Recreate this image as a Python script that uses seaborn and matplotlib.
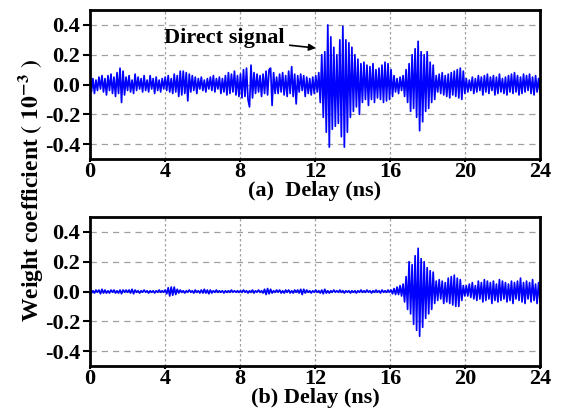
import matplotlib
matplotlib.use('Agg')
import matplotlib.pyplot as plt
import numpy as np
import pandas as pd
import seaborn as sns

# weight coefficients (x1e-3), sampled every 0.08 ns, 2 ns per row
weights_a = [
    0.07, -0.05, 0.04, -0.06, 0.03, -0.04, 0.05, -0.03, 0.06, -0.05, 0.04, -0.07, 0.06, -0.04, 0.07, -0.06, 0.05, -0.08, 0.08, -0.06, 0.11, -0.12, 0.09, -0.07, 0.05,
    -0.04, 0.06, -0.05, 0.03, -0.06, 0.07, -0.04, 0.05, -0.03, 0.04, -0.05, 0.06, -0.04, 0.03, -0.05, 0.06, -0.03, 0.04, -0.06, 0.05, -0.04, 0.03, -0.05, 0.04, -0.03,
    0.05, -0.04, 0.06, -0.05, 0.04, -0.06, 0.07, -0.05, 0.06, -0.08, 0.09, -0.07, 0.09, -0.06, 0.08, -0.11, 0.07, -0.05, 0.06, -0.04, 0.05, -0.06, 0.04, -0.03, 0.05,
    -0.04, 0.03, -0.05, 0.04, -0.03, 0.05, -0.04, 0.06, -0.05, 0.04, -0.03, 0.05, -0.06, 0.04, -0.05, 0.06, -0.07, 0.08, -0.06, 0.07, -0.05, 0.09, -0.07, 0.06, -0.08,
    0.07, -0.09, 0.10, -0.08, 0.11, -0.10, -0.15, 0.13, -0.09, 0.08, -0.06, 0.07, -0.05, 0.06, -0.08, 0.07, -0.06, 0.09, -0.07, 0.10, 0.11, -0.14, 0.08, -0.06, 0.05,
    -0.06, 0.07, -0.05, 0.08, -0.07, 0.06, -0.08, 0.09, -0.06, 0.12, -0.08, 0.07, -0.13, 0.06, -0.05, 0.07, -0.04, 0.06, -0.08, 0.05, -0.06, 0.04, -0.07, 0.05, -0.06,
    0.06, -0.05, 0.08, -0.12, 0.20, -0.22, 0.22, -0.32, 0.40, -0.42, 0.32, -0.30, 0.25, -0.28, 0.20, -0.26, 0.30, -0.35, 0.39, -0.42, 0.30, -0.32, 0.28, -0.22, 0.25,
    -0.18, 0.20, -0.15, 0.17, -0.20, 0.14, -0.12, 0.15, -0.10, 0.13, -0.14, 0.12, -0.10, 0.14, -0.12, 0.10, -0.09, 0.11, -0.10, 0.13, -0.12, 0.15, -0.11, 0.14, -0.10,
    0.10, -0.08, 0.06, -0.05, 0.04, -0.06, 0.05, -0.04, 0.06, -0.08, 0.10, -0.12, 0.14, -0.18, 0.20, -0.16, 0.24, -0.22, 0.29, -0.31, 0.22, -0.25, 0.20, -0.18, 0.22,
    -0.16, 0.15, -0.12, 0.13, -0.10, 0.06, -0.05, 0.07, -0.06, 0.08, -0.07, 0.06, -0.08, 0.07, -0.09, 0.08, -0.07, 0.09, -0.08, 0.10, -0.09, 0.11, -0.10, 0.09, -0.06,
    0.04, -0.05, 0.03, -0.04, 0.05, -0.06, 0.04, -0.05, 0.06, -0.04, 0.05, -0.07, 0.06, -0.05, 0.07, -0.06, 0.05, -0.04, 0.06, -0.07, 0.05, -0.06, 0.07, -0.05, 0.04,
    -0.06, 0.05, -0.07, 0.06, -0.05, 0.07, -0.06, 0.08, -0.05, 0.06, -0.07, 0.05, -0.06, 0.07, -0.05, 0.06, -0.04, 0.07, -0.06, 0.05, -0.07, 0.06, -0.05, 0.04, -0.06,
]

weights_b = [
    0.010, -0.010, 0.005, -0.010, 0.010, -0.005, 0.010, -0.015, 0.015, -0.010, 0.010, -0.010, 0.005, -0.010, 0.010, -0.005, 0.010, -0.010, 0.005, -0.010, 0.010, -0.015, 0.010, -0.005, 0.010,
    -0.005, 0.010, -0.010, 0.015, -0.015, 0.010, -0.005, 0.005, -0.010, 0.005, -0.005, 0.010, -0.005, 0.005, -0.010, 0.005, -0.005, 0.005, -0.010, 0.005, -0.005, 0.010, -0.005, 0.005, -0.005,
    0.010, -0.015, 0.025, -0.030, 0.030, -0.025, 0.030, -0.020, 0.015, -0.010, 0.010, -0.005, 0.005, -0.010, 0.005, -0.005, 0.010, -0.005, 0.005, -0.010, 0.010, -0.005, 0.005, -0.010, 0.010,
    -0.010, 0.015, -0.010, 0.010, -0.015, 0.010, -0.010, 0.005, -0.005, 0.010, -0.005, 0.005, -0.005, 0.005, -0.010, 0.005, -0.005, 0.005, -0.005, 0.010, -0.005, 0.005, -0.005, 0.005, -0.005,
    0.005, -0.005, 0.010, -0.005, 0.005, -0.010, 0.005, -0.005, 0.010, -0.010, 0.005, -0.005, 0.010, -0.005, 0.005, -0.010, 0.015, -0.020, 0.020, -0.015, 0.015, -0.010, 0.005, -0.005, 0.010,
    -0.005, 0.010, -0.010, 0.005, -0.010, 0.010, -0.005, 0.010, -0.010, 0.005, -0.010, 0.010, -0.005, 0.010, -0.010, 0.015, -0.020, 0.015, -0.010, 0.010, -0.005, 0.005, -0.010, 0.005, -0.005,
    0.010, -0.005, 0.005, -0.010, 0.010, -0.015, 0.015, -0.010, 0.005, -0.010, 0.005, -0.005, 0.010, -0.005, 0.005, -0.005, 0.010, -0.005, 0.005, -0.010, 0.005, -0.005, 0.005, -0.010, 0.005,
    -0.005, 0.005, -0.010, 0.005, -0.005, 0.010, -0.005, 0.005, -0.005, 0.010, -0.005, 0.005, -0.010, 0.005, -0.005, 0.010, -0.005, 0.005, -0.010, 0.010, -0.005, 0.005, -0.005, 0.010, -0.005,
    0.010, -0.015, 0.020, -0.020, 0.030, -0.020, 0.040, -0.030, 0.050, -0.070, 0.100, -0.120, 0.200, -0.150, 0.180, -0.220, 0.240, -0.260, 0.290, -0.300, 0.220, -0.240, 0.200, -0.180, 0.160,
    -0.150, 0.140, -0.120, 0.130, -0.080, 0.070, -0.060, 0.080, -0.050, 0.070, -0.080, 0.060, -0.070, 0.090, -0.080, 0.100, -0.090, 0.110, -0.100, 0.090, -0.100, 0.080, -0.060, 0.040, -0.030,
    0.040, -0.030, 0.050, -0.040, 0.060, -0.050, 0.040, -0.060, 0.070, -0.050, 0.060, -0.070, 0.080, -0.060, 0.070, -0.050, 0.060, -0.080, 0.070, -0.060, 0.050, -0.070, 0.080, -0.060, 0.070,
    -0.050, 0.060, -0.070, 0.050, -0.060, 0.070, -0.080, 0.060, -0.050, 0.070, -0.060, 0.090, -0.070, 0.060, -0.080, 0.070, -0.050, 0.060, -0.070, 0.080, -0.060, 0.050, -0.080, 0.060, -0.070,
]

x_ticks = [0, 4, 8, 12, 16, 20, 24]
y_ticks = [-0.4, -0.2, 0.0, 0.2, 0.4]
panel_labels = ['(a)  Delay (ns)', '(b) Delay (ns)']

sns.set_theme(style='white')
plt.rcParams['font.family'] = ['Liberation Serif', 'DejaVu Serif']
plt.rcParams['font.weight'] = 'bold'
plt.rcParams['mathtext.fontset'] = 'stix'
for k in ['text.color', 'axes.labelcolor', 'xtick.color', 'ytick.color']:
    plt.rcParams[k] = 'black'

fig = plt.figure(figsize=(5.62, 4.19), dpi=100)
ax1 = fig.add_axes([0.160, 0.6205, 0.801, 0.3555])
ax2 = fig.add_axes([0.160, 0.1265, 0.801, 0.3555])

for ax, w, lab in zip([ax1, ax2], [weights_a, weights_b], panel_labels):
    df = pd.DataFrame({'t': np.linspace(0, 24, len(w)), 'w': w})
    sns.lineplot(data=df, x='t', y='w', ax=ax, color='#0000ff', lw=1.25,
                 estimator=None, sort=False)
    ax.set_xlim(0, 24)
    ax.set_ylim(-0.5, 0.5)
    ax.set_xticks(x_ticks)
    ax.set_yticks(y_ticks)
    ax.set_yticklabels([f'{v:.1f}' for v in y_ticks])
    for xv in x_ticks[1:-1]:
        ax.axvline(xv, color='#a0a0a0', ls=(0, (2, 2)), lw=0.9, zorder=0)
    for yv in y_ticks:
        ax.axhline(yv, color='#a0a0a0', ls=(0, (5, 4)), lw=0.9, zorder=0)
    for s in ax.spines.values():
        s.set_linewidth(2)
        s.set_color('black')
    ax.tick_params(axis='y', direction='out', length=5, width=1.5,
                   labelsize=16, pad=2, left=True)
    ax.tick_params(axis='x', direction='out', length=2.5, width=1.5,
                   labelsize=16, pad=0, bottom=True)
    ax.set_xlabel(lab, fontsize=16, fontweight='bold', labelpad=-1)
    ax.set_ylabel('')

ax1.annotate('Direct signal', xy=(12.05, 0.245), xytext=(10.4, 0.31),
             ha='right', va='center', fontsize=16, fontweight='bold',
             arrowprops=dict(arrowstyle='-|>', color='black', lw=1.2,
                             mutation_scale=10, shrinkA=1, shrinkB=0))

fig.text(0.055, 0.546, r'Weight coefficient $(\ 10^{-3}\ )$', rotation=90,
         ha='center', va='center', fontsize=17, fontweight='bold')

fig.savefig('out.png', dpi=100)
